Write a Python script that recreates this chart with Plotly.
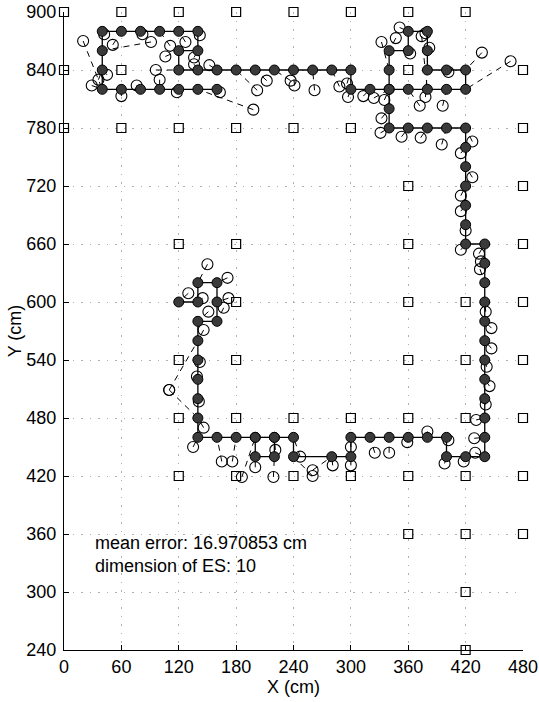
import plotly.graph_objects as go

# anchor (reference) nodes
anchor_x = [0, 60, 120, 180, 240, 300, 360, 420,
            0, 60, 360, 480,
            0, 60, 120, 180, 240, 300, 480,
            360, 480,
            120, 180, 360, 480,
            180, 360, 420, 480,
            120, 180, 360, 420, 480,
            120, 180, 240, 300, 360, 420, 480,
            120, 180, 240, 300, 360, 420, 480,
            360, 420, 480,
            420, 420]
anchor_y = [900, 900, 900, 900, 900, 900, 900, 900,
            840, 840, 840, 840,
            780, 780, 780, 780, 780, 780, 780,
            720, 720,
            660, 660, 660, 660,
            600, 600, 600, 600,
            540, 540, 540, 540, 540,
            480, 480, 480, 480, 480, 480, 480,
            420, 420, 420, 420, 420, 420, 420,
            360, 360, 360,
            300, 240]

# true walking path (None separates an extra connecting segment)
path_x = [120, 140, 140, 160, 160, 160, 140, 140, 140, 140, 140, 140, 140,
          160, 180, 200, 200, 220, 220, 240, 240, 280, 300, 300,
          320, 340, 360, 380, 400, 400, 420, 440,
          440, 440, 440, 440, 440, 440, 440, 440, 440, 440, 440,
          420, 420, 420, 420, 420, 420, 420,
          400, 380, 360, 340, 340, 340, 340, 340, 360, 360, 380, 380, 380,
          400, 420, 420, 400, 380, 360, 340, 320, 300, 300,
          280, 260, 240, 220, 200, 180, 160, 140, 120, 120, 140, 140,
          120, 100, 80, 60, 40, 40, 40, 40, 60, 80, 100, 120, 140, 160,
          None, 200, 220]
path_y = [600, 600, 620, 620, 600, 580, 580, 560, 540, 520, 500, 480, 460,
          460, 460, 460, 440, 440, 460, 460, 440, 440, 440, 460,
          460, 460, 460, 460, 460, 440, 440, 440,
          460, 480, 500, 520, 540, 560, 580, 600, 620, 640, 660,
          660, 680, 700, 720, 740, 760, 780,
          780, 780, 780, 780, 800, 820, 840, 860, 860, 880, 880, 860, 840,
          840, 840, 820, 820, 820, 820, 820, 820, 820, 840,
          840, 840, 840, 840, 840, 840, 840, 840, 840, 860, 860, 880,
          880, 880, 880, 880, 880, 860, 840, 820, 820, 820, 820, 820, 820, 820,
          None, 460, 460]

# estimated positions and the true positions they belong to
est_x = [130, 145, 150, 171, 172, 167, 151, 146, 110, 142, 139, 141, 110, 146, 135,
         165, 176, 186, 200, 219, 221, 247, 260, 260, 281, 300, 300,
         325, 340, 359, 380, 398, 402, 418, 430, 429, 431, 441, 445, 442, 447, 447,
         441, 435, 436, 434, 415, 420, 415, 415, 427, 415, 427,
         395, 373, 353, 331, 332, 335, 332, 347, 362, 351, 378, 382, 378, 402,
         437, 467, 396, 374, 372, 324, 313, 297, 296, 288, 262, 241, 237, 212,
         202, 152, 198, 136, 136, 106, 96, 127, 111, 82, 51, 42, 91, 45, 36,
         29, 20, 60, 76, 100, 118, 163, 142]
est_y = [609, 604, 639, 625, 604, 594, 590, 571, 509, 538, 523, 497, 509, 470, 450,
         435, 435, 419, 429, 419, 447, 440, 420, 426, 431, 431, 450,
         444, 444, 455, 466, 433, 457, 435, 444, 459, 478, 494, 513, 533, 552, 573,
         590, 634, 642, 650, 654, 674, 694, 710, 729, 754, 766,
         763, 770, 771, 775, 790, 809, 869, 873, 857, 884, 878, 863, 812, 838,
         858, 849, 803, 875, 803, 811, 813, 812, 826, 823, 819, 824, 829, 829,
         819, 845, 799, 853, 846, 854, 840, 869, 865, 877, 866, 877, 869, 835, 830,
         824, 870, 813, 824, 830, 817, 817, 876]
ref_x = [120, 140, 140, 160, 160, 160, 140, 140, 140, 140, 140, 140, 140, 140, 140,
         160, 180, 200, 200, 220, 220, 240, 240, 280, 280, 300, 300,
         320, 340, 360, 380, 400, 400, 420, 440, 440, 440, 440, 440, 440, 440, 440,
         440, 440, 440, 440, 420, 420, 420, 420, 420, 420, 420,
         400, 380, 360, 340, 340, 340, 340, 340, 360, 360, 380, 380, 380, 400,
         420, 420, 400, 380, 360, 340, 320, 300, 300, 280, 260, 240, 220, 200,
         180, 160, 140, 140, 140, 120, 120, 120, 100, 80, 60, 40, 40, 40, 40,
         40, 40, 60, 80, 100, 120, 160, 140]
ref_y = [600, 600, 620, 620, 600, 580, 580, 560, 560, 540, 520, 500, 480, 480, 460,
         460, 460, 460, 440, 440, 460, 460, 440, 440, 440, 440, 460,
         460, 460, 460, 460, 440, 460, 440, 440, 460, 480, 500, 520, 540, 560, 580,
         600, 620, 640, 660, 660, 680, 700, 720, 740, 760, 780,
         780, 780, 780, 780, 800, 820, 840, 860, 860, 880, 880, 860, 840, 840,
         840, 820, 820, 820, 820, 820, 820, 820, 840, 840, 840, 840, 840, 840,
         840, 840, 820, 860, 840, 860, 840, 880, 880, 880, 880, 880, 860, 840, 840,
         820, 820, 820, 820, 820, 820, 820, 880]

x_ticks = [0, 60, 120, 180, 240, 300, 360, 420, 480]
y_ticks = [240, 300, 360, 420, 480, 540, 600, 660, 720, 780, 840, 900]
info_lines = ["mean error: 16.970853 cm", "dimension of ES: 10"]

FONT = "Liberation Sans, Arial, Helvetica, sans-serif"
FS = 18

link_x, link_y = [], []
for ex, ey, tx, ty in zip(est_x, est_y, ref_x, ref_y):
    link_x += [ex, tx, None]
    link_y += [ey, ty, None]

fig = go.Figure()
fig.add_trace(go.Scatter(x=link_x, y=link_y, mode="lines",
                         line=dict(color="black", width=1, dash="6px,5px"),
                         hoverinfo="skip", showlegend=False))
fig.add_trace(go.Scatter(x=anchor_x, y=anchor_y, mode="markers", cliponaxis=False,
                         marker=dict(symbol="square-open", size=9, color="black",
                                     line=dict(width=1.2, color="black")),
                         showlegend=False))
fig.add_trace(go.Scatter(x=est_x, y=est_y, mode="markers", cliponaxis=False,
                         marker=dict(symbol="circle-open", size=11, color="black",
                                     line=dict(width=1.1, color="black")),
                         showlegend=False))
fig.add_trace(go.Scatter(x=path_x, y=path_y, mode="lines+markers",
                         line=dict(color="black", width=1.3),
                         marker=dict(symbol="circle", size=10, color="#3a3a3a",
                                     line=dict(width=1, color="black")),
                         showlegend=False))

fig.add_annotation(x=30, y=363, xref="x", yref="y", xanchor="left", yanchor="top",
                   align="left", showarrow=False, text="<br>".join(info_lines),
                   font=dict(family=FONT, size=FS, color="black"))

axis_common = dict(showline=True, linecolor="black", linewidth=1, mirror=False,
                   ticks="inside", ticklen=5, tickcolor="black", automargin=False,
                   showgrid=True, gridcolor="#b0b0b0", griddash="1.5px,7px", gridwidth=1,
                   zeroline=False,
                   tickfont=dict(family=FONT, size=FS, color="black"))

fig.update_xaxes(range=[0, 480], tickvals=x_ticks, ticktext=[str(v) for v in x_ticks],
                 ticklabelstandoff=0,
                 title=dict(text="X (cm)", font=dict(family=FONT, size=FS, color="black"),
                            standoff=0), **axis_common)
fig.update_yaxes(range=[240, 900], tickvals=y_ticks, ticktext=[str(v) for v in y_ticks],
                 ticklabelstandoff=3,
                 title=dict(text="Y (cm)", font=dict(family=FONT, size=FS, color="black"),
                            standoff=0), **axis_common)

fig.update_layout(width=539, height=702, margin=dict(l=64, r=16, t=12, b=52),
                  plot_bgcolor="white", paper_bgcolor="white",
                  font=dict(family=FONT, size=FS, color="black"))

fig.write_html("out.html", config={"displayModeBar": False},
               post_script="document.body.style.margin='0px';")
